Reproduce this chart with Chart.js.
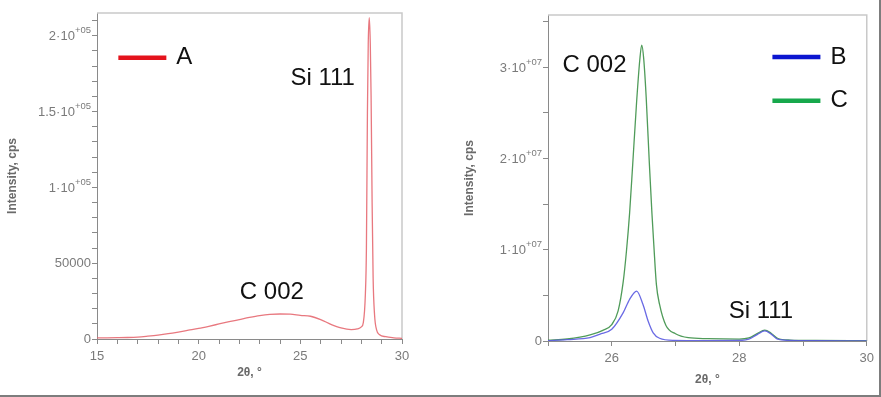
<!DOCTYPE html>
<html><head><meta charset="utf-8">
<script src="https://cdn.jsdelivr.net/npm/chart.js@4.4.1/dist/chart.umd.min.js"></script>
<style>
html,body{margin:0;padding:0;background:#fff;}
#wrap{position:relative;width:879px;height:395px;border-right:2px solid #7d7d7d;border-bottom:2px solid #7d7d7d;overflow:hidden;background:#fff}
#c1{position:absolute;left:0;top:0;}
#c2{position:absolute;left:440px;top:0;}
</style></head><body>
<div id="wrap">
<canvas id="c1" width="440" height="397"></canvas>
<canvas id="c2" width="439" height="397"></canvas>
</div>
<script>
// ---- Panel 1: sample A ----
const xA = [15,15.5,16,16.5,17,17.5,18,18.5,19,19.5,20,20.5,21,21.5,22,22.5,23,23.5,24,24.5,25,25.5,26,26.5,27,27.5,27.8,28.0,28.1,28.2,28.25,28.3,28.34,28.39,28.44,28.48,28.53,28.58,28.65,28.75,28.9,29.2,29.6,30];
const yA = [700,750,850,1000,1300,1900,2600,3500,4600,5800,7000,8400,9900,11400,12800,14200,15400,16200,16500,16400,15600,15000,12800,9700,7300,6200,6600,8000,11000,30000,60000,150000,195000,212000,195000,160000,90000,40000,16000,6000,2800,1500,800,400];
const xTicksA = [15,20,25,30];
const yTickValsA = [0,50000,100000,150000,200000];
const yTickBaseA = ['0','50000','1·10','1.5·10','2·10'];
const yTickExpA = ['','','+05','+05','+05'];

// ---- Panel 2: samples B and C ----
const xB = [25,25.3,25.66,25.81,26.0,26.18,26.28,26.39,26.49,26.57,26.65,26.75,26.97,27.5,28.0,28.15,28.28,28.4,28.5,28.6,28.8,29.2,30];
const yB = [40000,150000,360000,730000,1280000,3100000,4560000,5470000,4000000,2200000,900000,300000,70000,50000,60000,200000,700000,1100000,750000,200000,60000,30000,20000];
const xC = [25,25.3,25.66,25.86,26.0,26.1,26.18,26.23,26.28,26.33,26.39,26.44,26.47,26.50,26.54,26.59,26.63,26.66,26.70,26.75,26.85,27.0,27.2,27.5,28.0,28.15,28.28,28.4,28.5,28.6,28.8,29.2,30];
const yC = [100000,220000,660000,1170000,1800000,3300000,6500000,9800000,14000000,19500000,26200000,30800000,32400000,31000000,26700000,19400000,14000000,10500000,6200000,4000000,1700000,800000,360000,250000,200000,330000,800000,1200000,850000,300000,100000,60000,30000];
const xTicksBC = [26,28,30];
const yTickValsBC = [0,10000000,20000000,30000000];
const yTickBaseBC = ['0','1·10','2·10','3·10'];
const yTickExpBC = ['','+07','+07','+07'];

const toPts = (xs, ys) => xs.map((x, i) => ({x, y: ys[i]}));
const GRAY = '#8a8a8a';
const FAM = 'Arial, "Liberation Sans", sans-serif';
const TICKFONT = {family: FAM, size: 13};
const TITLEFONT = {family: FAM, size: 12, weight: 'bold'};

const framePlugin = {
  id: 'frame',
  beforeDatasetsDraw(chart) {
    const {ctx, chartArea: a} = chart;
    ctx.save();
    ctx.strokeStyle = '#c9c9c9';
    ctx.lineWidth = 1.5;
    ctx.beginPath();
    ctx.moveTo(a.left, a.top); ctx.lineTo(a.right, a.top); ctx.lineTo(a.right, a.bottom);
    ctx.stroke();
    ctx.restore();
  }
};
// y tick labels with superscript exponents
const yLabelPlugin = {
  id: 'ylabels',
  afterDraw(chart, args, opts) {
    const {ctx, chartArea: a, scales} = chart;
    ctx.save();
    ctx.fillStyle = '#7a7a7a';
    ctx.textBaseline = 'middle';
    ctx.textAlign = 'right';
    opts.vals.forEach((v, i) => {
      const y = scales.y.getPixelForValue(v);
      let right = a.left - 6;
      const exp = opts.exps[i];
      if (exp) {
        ctx.font = '9.5px ' + FAM;
        ctx.fillText(exp, right, y - 5);
        right -= ctx.measureText(exp).width;
      }
      ctx.font = '13px ' + FAM;
      ctx.fillText(opts.bases[i], right, y + (exp ? 1 : 0));
    });
    ctx.restore();
  }
};
const textPlugin = {
  id: 'texts',
  afterDraw(chart, args, opts) {
    const {ctx, scales} = chart;
    ctx.save();
    ctx.font = '24px ' + FAM;
    ctx.fillStyle = '#111';
    ctx.textBaseline = 'middle';
    ctx.textAlign = 'center';
    (opts.notes || []).forEach(n => {
      ctx.fillText(n.text, scales.x.getPixelForValue(n.x), scales.y.getPixelForValue(n.y));
    });
    (opts.legend || []).forEach(l => {
      const px = scales.x.getPixelForValue(l.x), py = scales.y.getPixelForValue(l.y);
      ctx.strokeStyle = l.color; ctx.lineWidth = 4.5;
      ctx.beginPath(); ctx.moveTo(px, py); ctx.lineTo(px + 48, py); ctx.stroke();
      ctx.textAlign = 'left';
      ctx.fillText(l.label, px + 58, py);
    });
    ctx.restore();
  }
};

function lookup(vals, texts, v, tol) {
  for (let i = 0; i < vals.length; i++) {
    if (Math.abs(vals[i] - v) < tol) return texts[i];
  }
  return '';
}
function stepTicks(min, max, step) {
  const out = [];
  for (let k = 0; min + k * step <= max + step * 1e-6; k++) out.push({value: min + k * step});
  return out;
}

function makeChart(id, cfg) {
  return new Chart(document.getElementById(id), {
    type: 'line',
    data: {datasets: cfg.datasets},
    plugins: [framePlugin, yLabelPlugin, textPlugin],
    options: {
      responsive: false,
      animation: false,
      layout: {padding: cfg.padding},
      elements: {point: {radius: 0}, line: {cubicInterpolationMode: 'monotone', borderWidth: 1.3}},
      plugins: {
        legend: {display: false}, tooltip: {enabled: false},
        texts: {notes: cfg.notes, legend: cfg.legend},
        ylabels: {vals: cfg.yVals, bases: cfg.yBase, exps: cfg.yExp}
      },
      scales: {
        x: {
          type: 'linear', min: cfg.xmin, max: cfg.xmax,
          afterBuildTicks: s => { s.ticks = stepTicks(cfg.xmin, cfg.xmax, 1); },
          afterFit: s => { s.height = cfg.xh; },
          border: {display: true, color: GRAY, width: 1},
          grid: {drawOnChartArea: false, drawTicks: true, tickLength: 5, color: GRAY},
          ticks: {autoSkip: false, maxRotation: 0, padding: 5, color: '#7a7a7a', font: TICKFONT,
            callback: v => lookup(cfg.xLabels, cfg.xLabels.map(String), v, 0.01)},
          title: {display: true, text: '2θ, °', color: '#6a6a6a', font: TITLEFONT, padding: {top: 0, bottom: cfg.xtPad}}
        },
        y: {
          type: 'linear', min: 0, max: cfg.ymax,
          afterBuildTicks: s => { s.ticks = stepTicks(0, cfg.ymax, cfg.ystep); },
          afterFit: s => { s.width = cfg.yw; },
          border: {display: true, color: GRAY, width: 1},
          grid: {drawOnChartArea: false, drawTicks: true, tickLength: 5, color: GRAY},
          ticks: {display: false, autoSkip: false},
          title: {display: true, text: 'Intensity, cps', color: '#6a6a6a', font: TITLEFONT, padding: {top: cfg.ytPad, bottom: 0}}
        }
      }
    }
  });
}

makeChart('c1', {
  datasets: [{label: 'A', data: toPts(xA, yA), borderColor: 'rgba(228,96,104,0.85)'}],
  padding: {left: 0, right: 38, top: 13, bottom: 0},
  xmin: 15, xmax: 30, ymax: 215000, ystep: 10000, yw: 97, xh: 58, xtPad: 17, ytPad: 5,
  xLabels: xTicksA, yVals: yTickValsA, yBase: yTickBaseA, yExp: yTickExpA,
  notes: [{text: 'Si 111', x: 26.1, y: 172000}, {text: 'C 002', x: 23.6, y: 31000}],
  legend: [{label: 'A', color: '#e4131c', x: 16.05, y: 185500}]
});

makeChart('c2', {
  datasets: [
    {label: 'B', data: toPts(xB, yB), borderColor: 'rgba(90,90,225,0.9)'},
    {label: 'C', data: toPts(xC, yC), borderColor: 'rgba(70,150,80,0.95)'}
  ],
  padding: {left: 0, right: 10, top: 15, bottom: 0},
  xmin: 25, xmax: 30, ymax: 35700000, ystep: 5000000, yw: 108, xh: 56, xtPad: 10, ytPad: 22,
  xLabels: xTicksBC, yVals: yTickValsBC, yBase: yTickBaseBC, yExp: yTickExpBC,
  notes: [{text: 'C 002', x: 25.73, y: 30200000}, {text: 'Si 111', x: 28.34, y: 3200000}],
  legend: [{label: 'B', color: '#0b16d0', x: 28.52, y: 31100000}, {label: 'C', color: '#17a84c', x: 28.52, y: 26300000}]
});
</script>
</body></html>
